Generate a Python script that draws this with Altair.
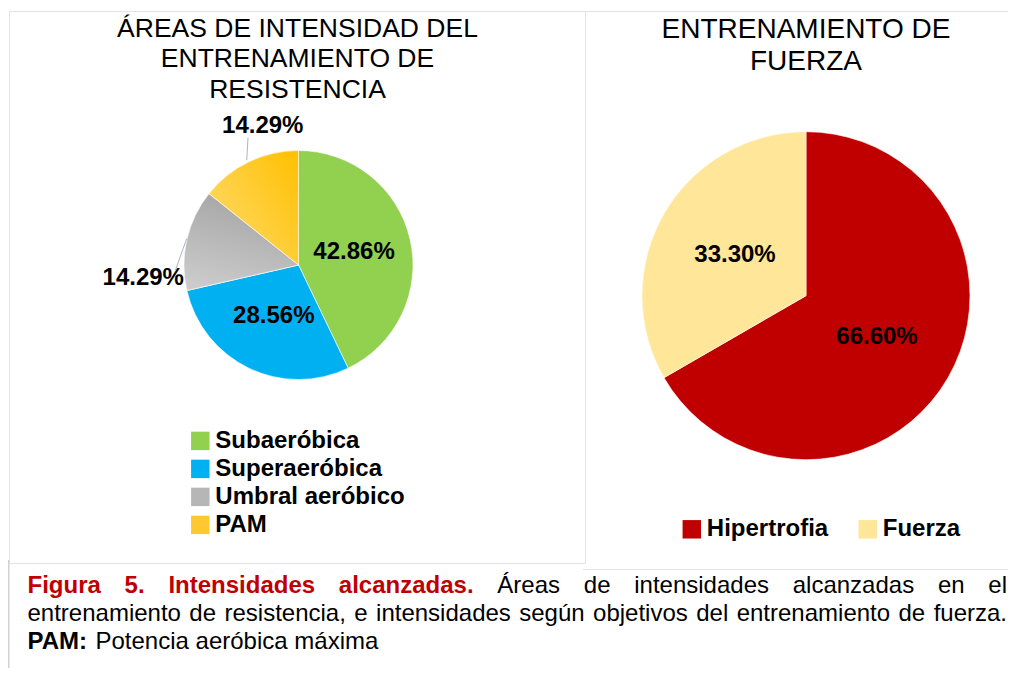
import altair as alt
import pandas as pd

# ---------------- data ----------------
res_categories = ["Subaeróbica", "Superaeróbica", "Umbral aeróbico", "PAM"]
res_values = [42.86, 28.56, 14.29, 14.29]
res_colors = ["#92D050", "#00B0F0", "#B6B6B6", "#FFC830"]

fue_categories = ["Hipertrofia", "Fuerza"]
fue_values = [66.60, 33.30]
fue_colors = ["#C00000", "#FFE699"]

title_left = ["ÁREAS DE INTENSIDAD DEL", "ENTRENAMIENTO DE", "RESISTENCIA"]
title_right = ["ENTRENAMIENTO DE", "FUERZA"]

caption_red = ["Figura", "5.", "Intensidades", "alcanzadas."]
caption_l1 = ["Áreas", "de", "intensidades", "alcanzadas", "en", "el"]
caption_l2 = "entrenamiento de resistencia, e intensidades según objetivos del entrenamiento de fuerza."
caption_l3_bold = "PAM:"
caption_l3 = "Potencia aeróbica máxima"

# ---------------- helpers ----------------
M = 8  # page margin
W = 1000
H = 660


def px(v):
    return v - M


FONT = "Liberation Sans"
one = pd.DataFrame({"k": [0]})

W_REG = {' ': 278, ',': 278, '.': 278, ':': 278, 'a': 556, 'b': 556, 'c': 500, 'd': 556, 'e': 556,
         'f': 278, 'g': 556, 'h': 556, 'i': 222, 'j': 222, 'k': 500, 'l': 222, 'm': 833, 'n': 556,
         'o': 556, 'p': 556, 'q': 556, 'r': 333, 's': 500, 't': 278, 'u': 556, 'v': 500, 'w': 722,
         'x': 500, 'y': 500, 'z': 500, 'á': 556, 'é': 556, 'í': 222, 'ó': 556, 'ú': 556, 'Á': 667,
         'P': 667, 'A': 667, 'M': 833}
W_BOLD = {' ': 278, '.': 278, ':': 333, '5': 556, 'F': 611, 'I': 278, 'P': 667, 'A': 722, 'M': 833,
          'a': 556, 'c': 556, 'd': 611, 'e': 556, 'g': 611, 'i': 278, 'l': 278, 'n': 611, 'r': 389,
          's': 556, 't': 333, 'u': 611, 'z': 500}
CAP_SIZE = 24


def wwidth(word, bold):
    table = W_BOLD if bold else W_REG
    return sum(table.get(c, 556) for c in word) / 1000 * CAP_SIZE


def justify(words, x0, x1):
    # words: list of (word, bold)
    widths = [wwidth(w, b) for w, b in words]
    gap = (x1 - x0 - sum(widths)) / (len(words) - 1)
    xs, x = [], x0
    for wd in widths:
        xs.append(x)
        x += wd + gap
    return xs


def rule(x1, y1, x2, y2, color="#E3E3E3", width=1):
    return alt.Chart(one).mark_rule(color=color, strokeWidth=width).encode(
        x=alt.value(x1), y=alt.value(y1), x2=alt.value(x2), y2=alt.value(y2))


# ---------------- pies ----------------
res_df = pd.DataFrame({"cat": res_categories, "val": res_values, "idx": list(range(len(res_values)))})
res_df["label"] = [f"{v:.2f}%" for v in res_values]
fue_df = pd.DataFrame({"cat": fue_categories, "val": fue_values, "idx": list(range(len(fue_values)))})
fue_df["label"] = [f"{v:.2f}%" for v in fue_values]

LCX, LCY, LR = px(298.5), px(265), 114.5
RCX, RCY, RR = px(806), px(295.7), 164


def pie_enc(cx, cy):
    return dict(theta=alt.Theta("val:Q", stack=True),
                order=alt.Order("idx:Q", sort="ascending"),
                x=alt.value(cx), y=alt.value(cy))


legend_common = dict(title=None, orient="none", labelFont=FONT, labelFontSize=24,
                     labelFontWeight="bold", labelColor="#000000", symbolType="square",
                     symbolSize=340, symbolStrokeWidth=0, labelLimit=400, padding=0,
                     labelOffset=3, symbolOpacity=1)

left_arc = alt.Chart(res_df).mark_arc(outerRadius=LR, stroke="white", strokeWidth=0.6).encode(
    color=alt.Color("cat:N", scale=alt.Scale(domain=res_categories, range=res_colors),
                    legend=alt.Legend(direction="vertical", legendX=px(188.3), legendY=px(428.9),
                                      rowPadding=4, **legend_common)),
    **pie_enc(LCX, LCY))

gray_grad = alt.LinearGradient(gradient="linear",
                               stops=[alt.GradientStop(color="#A4A4A4", offset=0),
                                      alt.GradientStop(color="#CBCBCB", offset=1)],
                               x1=0.6, y1=0, x2=0.3, y2=1)
yellow_grad = alt.LinearGradient(gradient="linear",
                                 stops=[alt.GradientStop(color="#FFC000", offset=0),
                                        alt.GradientStop(color="#FFDA6A", offset=1)],
                                 x1=1, y1=0, x2=0, y2=0.8)

gray_overlay = alt.Chart(res_df).mark_arc(outerRadius=LR, fill=gray_grad, stroke="white", strokeWidth=0.6).encode(
    opacity=alt.condition(alt.datum.cat == res_categories[2], alt.value(1), alt.value(0)),
    **pie_enc(LCX, LCY))
yellow_overlay = alt.Chart(res_df).mark_arc(outerRadius=LR, fill=yellow_grad, stroke="white", strokeWidth=0.6).encode(
    opacity=alt.condition(alt.datum.cat == res_categories[3], alt.value(1), alt.value(0)),
    **pie_enc(LCX, LCY))

lbl_style = dict(font=FONT, fontSize=24, fontWeight="bold", color="#000000", align="center",
                 baseline="middle")

left_in = alt.Chart(res_df).transform_calculate(t="datum.idx < 2 ? datum.label : ''").mark_text(
    radius=57, **lbl_style).encode(text="t:N", **pie_enc(LCX, LCY))
left_out1 = alt.Chart(res_df).transform_calculate(t="datum.idx == 2 ? datum.label : ''").mark_text(
    radius=150, dx=-9, dy=46, **lbl_style).encode(text="t:N", **pie_enc(LCX, LCY))
left_out2 = alt.Chart(res_df).transform_calculate(t="datum.idx == 3 ? datum.label : ''").mark_text(
    radius=140, dx=25, dy=-13, **lbl_style).encode(text="t:N", **pie_enc(LCX, LCY))

leader1 = rule(px(186.7), px(238.5), px(175.5), px(270), color="#A9B6C8", width=1)
leader2 = rule(px(248), px(137.5), px(246.8), px(160), color="#A9B6C8", width=1)

right_arc = alt.Chart(fue_df).mark_arc(outerRadius=RR, stroke="white", strokeWidth=0.6).encode(
    color=alt.Color("cat:N", scale=alt.Scale(domain=fue_categories, range=fue_colors),
                    legend=alt.Legend(direction="horizontal", legendX=px(679.8), legendY=px(517.3),
                                      columnPadding=27, **legend_common)),
    **pie_enc(RCX, RCY))
right_lbl = alt.Chart(fue_df).mark_text(radius=82, **lbl_style).encode(text="label:N", **pie_enc(RCX, RCY))

# ---------------- titles ----------------
t_left = alt.Chart(one).mark_text(font=FONT, fontSize=26.5, lineHeight=30.5, align="center",
                                  baseline="alphabetic", color="#000000").encode(
    x=alt.value(px(297.5)), y=alt.value(px(36.7)), text=alt.value(title_left))
t_right = alt.Chart(one).mark_text(font=FONT, fontSize=28, lineHeight=32, align="center",
                                   baseline="alphabetic", color="#000000").encode(
    x=alt.value(px(806)), y=alt.value(px(37.5)), text=alt.value(title_right))

# ---------------- frame ----------------
frame = [
    rule(px(9), px(11.5), W, px(11.5)),
    rule(px(9.5), px(11.5), px(9.5), px(563.5)),
    rule(px(585.5), px(11.5), px(585.5), px(563.5)),
    rule(px(9.5), px(563.5), px(585.5), px(563.5)),
    rule(px(583), px(569.5), W, px(569.5)),
    rule(0.75, px(560), 0.75, H, color="#D2D2D2", width=1.5),
]

# ---------------- caption ----------------
X0, X1 = px(27.5), px(1007)
line1_words = [(w, True) for w in caption_red] + [(w, False) for w in caption_l1]
line1_x = justify(line1_words, X0, X1)
n_red = len(caption_red)
line2_words = [(w, False) for w in caption_l2.split(" ")]
line2_x = justify(line2_words, X0, X1)

cap_layers = []


def cap_layer(words, xs, y, bold, color):
    df = pd.DataFrame({"w": words, "x": xs})
    return alt.Chart(df).mark_text(font=FONT, fontSize=CAP_SIZE, fontWeight="bold" if bold else "normal",
                                   color=color, align="left", baseline="alphabetic").encode(
        x=alt.X("x:Q", scale=None, axis=None), y=alt.value(y), text="w:N")


cap_layers.append(cap_layer(caption_red, line1_x[:n_red], px(592.5), True, "#C00000"))
cap_layers.append(cap_layer(caption_l1, line1_x[n_red:], px(592.5), False, "#000000"))
cap_layers.append(cap_layer([w for w, _ in line2_words], line2_x, px(620.5), False, "#000000"))
cap_layers.append(cap_layer([caption_l3_bold], [X0], px(648.5), True, "#000000"))
cap_layers.append(cap_layer([caption_l3], [X0 + wwidth(caption_l3_bold + " ", True)], px(648.5), False, "#000000"))

chart = alt.layer(
    *frame,
    left_arc, gray_overlay, yellow_overlay, leader1, leader2, left_in, left_out1, left_out2,
    right_arc, right_lbl,
    t_left, t_right,
    *cap_layers,
).resolve_scale(theta="independent", color="independent").properties(
    width=W, height=H, padding=0, background="white",
    autosize=alt.AutoSizeParams(type="none"),
).configure_view(stroke=None)

chart.save("out.html", embed_options={"renderer": "svg", "actions": False})
